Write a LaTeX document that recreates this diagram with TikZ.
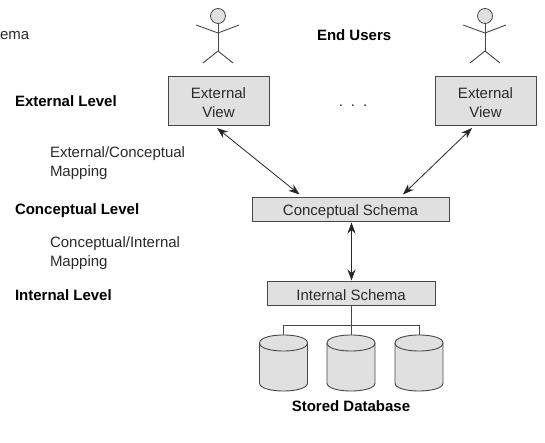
\documentclass[tikz,border=0pt]{standalone}
\usepackage{fontspec}
\setmainfont{Liberation Sans}
\usetikzlibrary{arrows.meta}
\definecolor{boxfill}{HTML}{E0E0E0}
\definecolor{boxline}{HTML}{484848}
\definecolor{txt}{HTML}{2A2A2A}
\tikzset{
  x=1pt,y=-1pt,
  every node/.style={inner sep=0pt,outer sep=0pt,text=txt,font=\fontsize{15}{19}\selectfont},
  every label/.style={align=center},
  viewbox/.style={draw=boxline,fill=boxfill,line width=0.9pt,anchor=north west},
  lbl/.style={anchor=west,align=left},
  boldlbl/.style={anchor=west,font=\fontsize{15}{19}\selectfont\bfseries,text=black},
  head/.style={circle,draw=boxline,fill=boxfill,line width=0.8pt,minimum size=15pt},
  limb/.style={draw=boxline,line width=0.9pt},
  link/.style={draw=boxline,line width=0.9pt},
  biarrow/.style={draw=black!85,line width=0.8pt,{Stealth[length=11pt,width=8pt]}-{Stealth[length=11pt,width=8pt]}},
  dbcyl/.style={minimum width=48pt,minimum height=56pt,anchor=center},
  dbside/.style={draw=boxline,fill=boxfill,line width=0.9pt,line join=round},
}
\begin{document}
\begin{tikzpicture}
\useasboundingbox (0,0) rectangle (545,443);
\node[lbl] (clip) at (0,35.5) {ema};
\node[boldlbl] (eu) at (317,35.5) {End Users};
\node[boldlbl] (el) at (15,101) {External Level};
\node[boldlbl] (cl) at (15,210.5) {Conceptual Level};
\node[boldlbl] (il) at (15,295) {Internal Level};
\node[lbl] (ecm) at (50,163.5) {External/Conceptual\\Mapping};
\node[lbl] (cim) at (50,253.5) {Conceptual/Internal\\Mapping};
\node[anchor=base] (dots) at (353,106.5) {.\hspace{8pt}.\hspace{8pt}.};

\node[viewbox,minimum width=101pt,minimum height=49.5pt,label={[yshift=-2pt]center:External\\View}] (ev1) at (168,76) {};
\node[viewbox,minimum width=101pt,minimum height=49.5pt,label={[yshift=-2pt]center:External\\View}] (ev2) at (435,76) {};
\node[viewbox,minimum width=197pt,minimum height=24pt,label={[yshift=-2.5pt]center:Conceptual Schema}] (cs) at (252,197) {};
\node[viewbox,minimum width=168pt,minimum height=24pt,label={[yshift=-2pt]center:Internal Schema}] (is) at (267,281) {};

% actors
\node[head] (h1) at (218,16) {};
\node[head] (h2) at (485,16) {};
\foreach \h/\c in {h1/218,h2/485}{
  \coordinate (\h n) at (\c,33);
  \coordinate (\h w) at (\c,51);
  \coordinate (\h al) at (\c-22,25);
  \coordinate (\h ar) at (\c+21,25);
  \coordinate (\h ll) at (\c-15,63);
  \coordinate (\h lr) at (\c+15,63);
  \draw[limb] (\h.south) -- (\h w);
  \draw[limb] (\h al) -- (\h n) -- (\h ar);
  \draw[limb] (\h ll) -- (\h w) -- (\h lr);
}

% mapping arrows
\coordinate (a1) at (217,128);
\coordinate (a2) at (299.5,194.5);
\coordinate (a3) at (472,128);
\coordinate (a4) at (403,194.5);
\coordinate (a5) at (351.5,222.5);
\coordinate (a6) at (351.5,280.5);
\draw[biarrow] (a1) -- (a2);
\draw[biarrow] (a3) -- (a4);
\draw[biarrow] (a5) -- (a6);

% database
\node[dbcyl] (d1) at (283.5,363) {};
\node[dbcyl] (d2) at (351,363) {};
\node[dbcyl] (d3) at (419,363) {};
\foreach \c in {283.5,351,419}{
  \draw[dbside] (\c-24,343) -- (\c-24,383)
     .. controls (\c-24,393.7) and (\c+24,393.7) .. (\c+24,383)
     -- (\c+24,343)
     .. controls (\c+24,332.3) and (\c-24,332.3) .. (\c-24,343) -- cycle;
  \draw[dbside,fill=none] (\c-24,343)
     .. controls (\c-24,353.7) and (\c+24,353.7) .. (\c+24,343);
}
\coordinate (bl) at (283.5,325);
\coordinate (br) at (419,325);
\draw[link] (is.south) -- (d2.north);
\draw[link] (d1.north) -- (bl) -- (br) -- (d3.north);
\node[boldlbl,anchor=center] (sd) at (351,406) {Stored Database};
\end{tikzpicture}
\end{document}
